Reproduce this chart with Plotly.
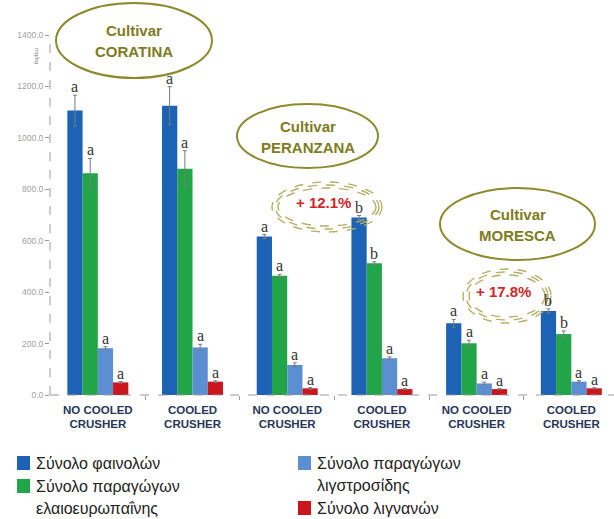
import plotly.graph_objects as go

# ---------------- data ----------------
categories = ["NO COOLED<br>CRUSHER", "COOLED<br>CRUSHER",
              "NO COOLED<br>CRUSHER", "COOLED<br>CRUSHER",
              "NO COOLED<br>CRUSHER", "COOLED<br>CRUSHER"]
series_names = ["Σύνολο φαινολών", "Σύνολο παραγώγων ελαιοευρωπαΐνης",
                "Σύνολο παραγώγων λιγστροσίδης", "Σύνολο λιγνανών"]
legend_lines = [["Σύνολο φαινολών"],
                ["Σύνολο παραγώγων", "ελαιοευρωπαΐνης"],
                ["Σύνολο παραγώγων", "λιγστροσίδης"],
                ["Σύνολο λιγνανών"]]

phenols = [1106, 1125, 616, 690, 279, 327]
oleuropein = [862, 880, 464, 512, 201, 237]
ligstroside = [182, 185, 117, 143, 45, 52]
lignans = [49, 52, 26, 23, 23, 26]

err_phenols = [60, 74, 8, 8, 15, 8]
err_oleuropein = [58, 70, 5, 6, 12, 12]
err_ligstroside = [6, 12, 8, 5, 5, 4]
err_lignans = [3, 3, 3, 2, 2, 2]

letters_phenols = ["a", "a", "a", "b", "a", "b"]
letters_oleuropein = ["a", "a", "a", "b", "a", "b"]
letters_ligstroside = ["a", "a", "a", "a", "a", "a"]
letters_lignans = ["a", "a", "a", "a", "a", "a"]

cultivars = ["CORATINA", "PERANZANA", "MORESCA"]
increase_labels = ["+ 12.1%", "+ 17.8%"]

y_ticks = [0, 200, 400, 600, 800, 1000, 1200, 1400]
unit_label = "mg/kg"

colors = ["#1d63b5", "#21a548", "#5b8fd2", "#c9171d"]

# ---------------- layout geometry ----------------
W, H = 614, 519
L, T = 50, 35
PW, PH = W - L, 360
B = H - T - PH

def px(x):
    return (x - L) / PW

def py(y):
    return (T + PH - y) / PH

values = [phenols, oleuropein, ligstroside, lignans]
errors = [err_phenols, err_oleuropein, err_ligstroside, err_lignans]
letters = [letters_phenols, letters_oleuropein, letters_ligstroside, letters_lignans]

xs = list(range(len(categories)))
bargap = 0.356
bw = (1 - bargap) / 4

fig = go.Figure()
for i in range(4):
    fig.add_trace(go.Bar(
        x=xs, y=values[i], name=series_names[i],
        marker=dict(color=colors[i], line=dict(width=0)),
        error_y=dict(type="data", array=errors[i], color="#7a7a7a",
                     thickness=1, width=2),
        showlegend=False,
    ))

annotations = []
# significance letters
for i in range(4):
    for j in xs:
        annotations.append(dict(
            x=j + (i - 1.5) * bw, y=values[i][j] + errors[i][j],
            xref="x", yref="y", text=letters[i][j], showarrow=False,
            yanchor="bottom", xanchor="center", yshift=-2,
            font=dict(family="Liberation Serif", size=16, color="#333333")))

shapes = []
# dashed axes
shapes.append(dict(type="line", xref="paper", yref="paper", x0=0, x1=0, y0=0, y1=1,
                   line=dict(color="#9a9a9a", width=1, dash="dash")))
shapes.append(dict(type="line", xref="paper", yref="paper", x0=0, x1=1, y0=0, y1=0,
                   line=dict(color="#9a9a9a", width=1, dash="dash")))

# cultivar ellipses
olive = "#8c8a2c"
olive_text = "#7e7c20"
cult_boxes = [(56, 212, 3, 78), (237, 378, 104, 168), (440, 595, 188, 260)]
for name, (x0, x1, y0, y1) in zip(cultivars, cult_boxes):
    shapes.append(dict(type="circle", xref="paper", yref="paper",
                       x0=px(x0), x1=px(x1), y0=py(y1), y1=py(y0),
                       line=dict(color=olive, width=2)))
    cx, cy = (x0 + x1) / 2, (y0 + y1) / 2
    annotations.append(dict(x=px(cx), y=py(cy - 10), xref="paper", yref="paper",
                            xanchor="center", yanchor="middle",
                            text="<b>Cultivar</b>", showarrow=False,
                            font=dict(family="Liberation Sans", size=15, color=olive_text)))
    annotations.append(dict(x=px(cx), y=py(cy + 11), xref="paper", yref="paper",
                            xanchor="center", yanchor="middle",
                            text="<b>" + name + "</b>", showarrow=False,
                            font=dict(family="Liberation Sans", size=15, color=olive_text)))

# dashed increase ellipses
inc_boxes = [(327, 207, 55, 25), (507, 296, 44, 27)]
for lab, (cx, cy, rx, ry) in zip(increase_labels, inc_boxes):
    for k in range(3):
        shapes.append(dict(type="circle", xref="paper", yref="paper",
                           x0=px(cx - rx + 3 * k), x1=px(cx + rx - 3 * k),
                           y0=py(cy + ry - 3 * k), y1=py(cy - ry + 3 * k),
                           line=dict(color="#b5af68", width=1.4, dash="dash")))
    annotations.append(dict(x=px(cx - 4), y=py(cy - 5), xref="paper", yref="paper",
                            xanchor="center", yanchor="middle",
                            text="<b>" + lab + "</b>", showarrow=False,
                            font=dict(family="Liberation Sans", size=15, color="#d3262c")))

# unit label
annotations.append(dict(x=px(37), y=py(56), xref="paper", yref="paper",
                        xanchor="center", yanchor="middle",
                        text=unit_label, showarrow=False, textangle=90,
                        font=dict(family="Liberation Sans", size=6, color="#888888")))

# custom legend
leg_pos = [(17, 463), (17, 486), (298, 463), (298, 508)]
for i, ((lx, ly), lines) in enumerate(zip(leg_pos, legend_lines)):
    shapes.append(dict(type="rect", xref="paper", yref="paper",
                       x0=px(lx), x1=px(lx + 13), y0=py(ly + 7), y1=py(ly - 7),
                       fillcolor=colors[i], line=dict(width=0)))
    for k, line in enumerate(lines):
        annotations.append(dict(x=px(lx + 17), y=py(ly + 22 * k), xref="paper", yref="paper",
                                text=line, showarrow=False, xanchor="left", yanchor="middle",
                                font=dict(family="Liberation Sans", size=16, color="#222222")))

fig.update_layout(
    width=W, height=H,
    margin=dict(l=L, r=0, t=T, b=B),
    paper_bgcolor="white", plot_bgcolor="white",
    barmode="group", bargap=bargap, bargroupgap=0,
    xaxis=dict(range=[-0.505, -0.505 + PW / 94.7], tickmode="array", tickvals=xs,
               ticktext=categories, showgrid=False, zeroline=False, showline=False,
               ticks="", ticklabelstandoff=6,
               tickfont=dict(family="Liberation Sans", size=11.5, color="#28365a",
                             weight="bold"),
               minor=dict(tickmode="array", tickvals=[0.5, 1.5, 2.5, 3.5, 4.5],
                          ticks="outside", ticklen=4, tickcolor="#9a9a9a", showgrid=False)),
    yaxis=dict(range=[0, 1400], tickmode="array", tickvals=y_ticks, tickformat=".1f",
               showgrid=False, zeroline=False, showline=False,
               ticks="outside", ticklen=4, tickcolor="#9a9a9a",
               tickfont=dict(family="Liberation Sans", size=8.5, color="#a0a0a0")),
    shapes=shapes, annotations=annotations,
)

fig.write_html("out.html", config={"displayModeBar": False},
               post_script="document.body.style.margin='0';")
